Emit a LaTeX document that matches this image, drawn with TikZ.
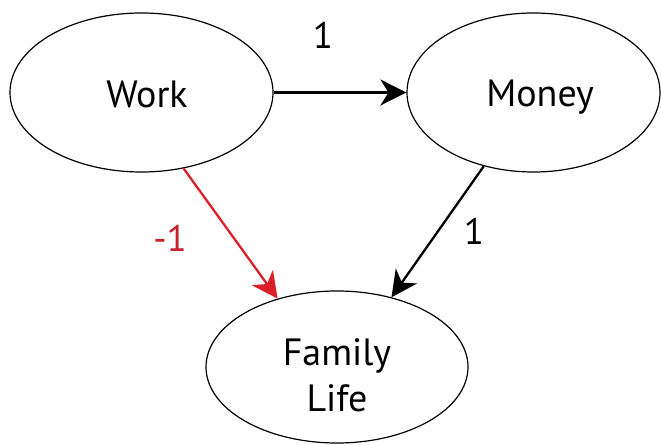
\documentclass[tikz,border=0pt]{standalone}
\usepackage{fontspec}
\setmainfont{PT Sans}
\usetikzlibrary{shapes.geometric,arrows.meta}
\definecolor{redarrow}{RGB}{220,32,42}
\definecolor{redlabel}{RGB}{200,30,45}
\tikzset{
  bubble/.style={draw=black, line width=1.2bp, ellipse, inner sep=0pt},
  lbl/.style={font=\fontsize{38bp}{46bp}\selectfont, inner sep=0pt, align=center},
  num/.style={font=\fontsize{37bp}{40bp}\selectfont, inner sep=0pt},
  link/.style={line width=2.3bp, -{Stealth[length=26bp, width=26bp, inset=8bp]}},
}
\begin{document}
\begin{tikzpicture}[x=1bp, y=-1bp]
\useasboundingbox (0,0) rectangle (661,445);
\node[bubble, minimum width=263bp, minimum height=159bp] (work) at (141.5,92.5) {};
\node[bubble, minimum width=253bp, minimum height=159bp] (money) at (533.5,92.5) {};
\node[bubble, minimum width=262bp, minimum height=152bp] (family) at (337,367) {};
\node[lbl] (workt) at (147,94) {Work};
\node[lbl] (moneyt) at (540,97) {Money};
\node[lbl] (familyt) at (337,375) {Family\\Life};
\draw[link] (work.east) -- (money.west);
\draw[link, draw=redarrow, fill=redarrow] (work.-61) -- (family.131);
\draw[link] (money.236) -- (family.52);
\node[num] (w1) at (323,35) {1};
\node[num, text=redlabel] (f1) at (170,238) {-1};
\node[num] (m1) at (474,231) {1};
\end{tikzpicture}
\end{document}
